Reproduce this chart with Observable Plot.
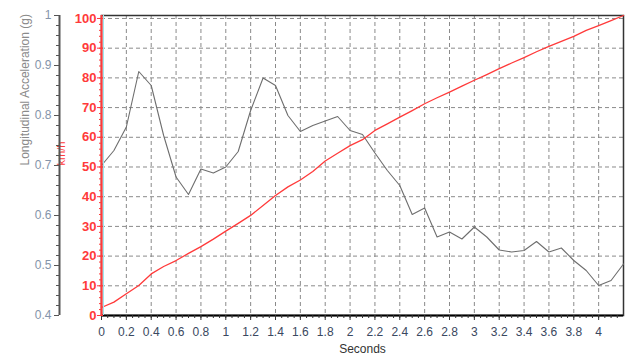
<!DOCTYPE html>
<html>
<head>
<meta charset="utf-8">
<script src="https://cdn.jsdelivr.net/npm/d3@7"></script>
<script src="https://cdn.jsdelivr.net/npm/@observablehq/plot@0.6"></script>
<style>
  html, body { margin: 0; padding: 0; background: #fff; }
</style>
</head>
<body>
<div id="chart"></div>
<script>
const seconds = [0,0.1,0.2,0.3,0.4,0.5,0.6,0.7,0.8,0.9,1.0,1.1,1.2,1.3,1.4,1.5,1.6,1.7,1.8,1.9,2.0,2.1,2.2,2.3,2.4,2.5,2.6,2.7,2.8,2.9,3.0,3.1,3.2,3.3,3.4,3.5,3.6,3.7,3.8,3.9,4.0,4.1,4.2];
const accelG = [0.70,0.73,0.777,0.888,0.86,0.76,0.677,0.642,0.693,0.685,0.697,0.728,0.81,0.875,0.86,0.80,0.768,0.78,0.789,0.798,0.77,0.762,0.725,0.69,0.66,0.602,0.615,0.557,0.567,0.553,0.577,0.557,0.531,0.527,0.53,0.548,0.527,0.535,0.51,0.49,0.46,0.47,0.503];
const speedKmh = [2.7,4.5,7.3,10.1,14.0,16.5,18.5,20.9,23.2,25.7,28.4,31.0,33.7,37.0,40.4,43.3,45.6,48.5,52.0,54.6,57.2,59.2,62.3,64.5,66.8,69.0,71.3,73.3,75.2,77.2,79.2,81.1,83.1,85.0,86.8,88.8,90.6,92.3,94.0,96.0,97.6,99.3,101];

const xTicks = [0,0.2,0.4,0.6,0.8,1,1.2,1.4,1.6,1.8,2,2.2,2.4,2.6,2.8,3,3.2,3.4,3.6,3.8,4];
const kmhTicks = [0,10,20,30,40,50,60,70,80,90,100];
const gTicks = [0.4,0.5,0.6,0.7,0.8,0.9,1];

const xDomain = [0, 4.2];
const kmhDomain = [0, 101];
const gDomain = [0.4, 1];

// map acceleration (g) onto the shared km/h y scale
const gToY = g => (g - gDomain[0]) / (gDomain[1] - gDomain[0]) * (kmhDomain[1] - kmhDomain[0]) + kmhDomain[0];
const yToG = y => (y - kmhDomain[0]) / (kmhDomain[1] - kmhDomain[0]) * (gDomain[1] - gDomain[0]) + gDomain[0];

const rows = seconds.map((t, i) => ({t, g: accelG[i], v: speedKmh[i]}));

const xMinor = d3.range(0, 84).map(i => +(i * 0.05).toFixed(2));
const kmhMinor = d3.range(0, 51).map(i => i * 2);
const gMinor = d3.range(0, 31).map(i => +(0.4 + i * 0.02).toFixed(2));
const gridXTicks = xTicks.slice(1);

const RED = "#ff3a3a";

const chart = Plot.plot({
  width: 641,
  height: 360,
  marginLeft: 101,
  marginRight: 18,
  marginTop: 15,
  marginBottom: 45,
  style: {fontFamily: "'Liberation Sans', Arial, sans-serif", fontSize: "12px", background: "#fff"},
  x: {domain: xDomain, label: null},
  y: {domain: kmhDomain, label: null},
  marks: [
    Plot.gridX({ticks: gridXTicks, stroke: "#8a8a8a", strokeOpacity: 1, strokeDasharray: "4,3"}),
    Plot.gridY({ticks: kmhTicks.slice(1), stroke: "#8a8a8a", strokeOpacity: 1, strokeDasharray: "4,3"}),
    Plot.frame({stroke: "#333", strokeWidth: 1.5}),
    // acceleration line
    Plot.line(rows, {x: "t", y: d => gToY(d.g), stroke: "#6e6e6e", strokeWidth: 1.1}),
    // speed line
    Plot.line(rows, {x: "t", y: "v", stroke: RED, strokeWidth: 1.3}),
    // x axis
    Plot.ruleY([0], {stroke: "#000", strokeWidth: 2}),
    Plot.axisX({ticks: xMinor, tickSize: 3, text: null, stroke: "#333", label: null}),
    Plot.axisX({ticks: xTicks, tickSize: 5, tickPadding: 7, stroke: "#333", fill: "#3a4860", fontSize: 12,
      tickFormat: d => String(+d.toFixed(1)), label: null}),
    Plot.text(["Seconds"], {frameAnchor: "bottom", lineAnchor: "middle", dy: 34, fill: "#333", fontSize: 12}),
    // km/h axis (red)
    Plot.ruleX([0], {dx: 2, stroke: "#9ee8ee", strokeWidth: 1}),
    Plot.ruleX([0], {stroke: RED, strokeWidth: 2}),
    Plot.axisY({ticks: kmhMinor, tickSize: 3, dx: 1, text: null, stroke: RED, label: null}),
    Plot.axisY({ticks: kmhTicks, tickSize: 6, dx: 2, tickPadding: 1, stroke: RED, fill: RED,
      fontSize: 13, fontWeight: "bold", tickFormat: d => String(d), label: null}),
    Plot.text(["km/h"], {frameAnchor: "left", rotate: -90, dx: -40, fill: RED, fontSize: 11}),
    // acceleration axis (left)
    Plot.ruleX([0], {dx: -42, stroke: "#555", strokeWidth: 2}),
    Plot.axisY({ticks: gMinor.map(gToY), tickSize: 3, dx: -42, text: null, stroke: "#555", label: null}),
    Plot.axisY({ticks: gTicks.map(gToY), tickSize: 5, dx: -42, tickPadding: 3, stroke: "#555", fill: "#8494aa",
      fontSize: 12, tickFormat: d => String(+yToG(d).toFixed(1)), label: null}),
    Plot.text(["Longitudinal Acceleration (g)"], {frameAnchor: "left", rotate: -90, dx: -76, fill: "#8a8a8a", fontSize: 12})
  ]
});
document.getElementById("chart").appendChild(chart);
</script>
</body>
</html>
